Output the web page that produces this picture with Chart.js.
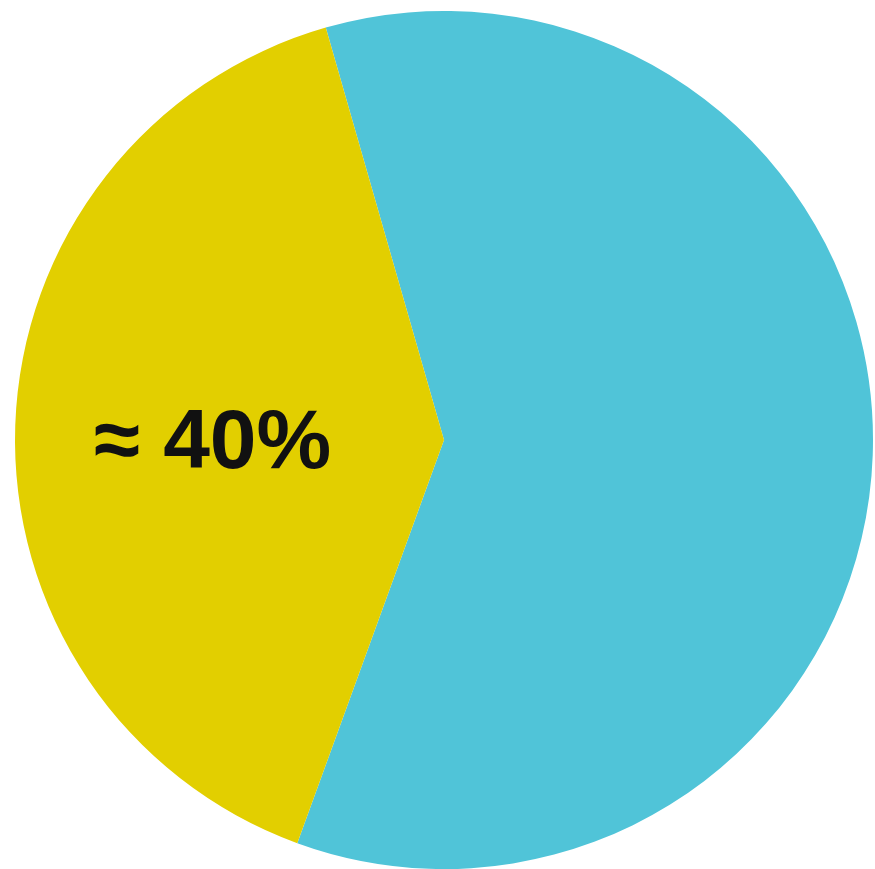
<!DOCTYPE html>
<html lang="en">
<head>
  <meta charset="UTF-8" />
  <title>Pie</title>
  <style>
    html, body {
      margin: 0;
      padding: 0;
      background: #ffffff;
    }
    #pieChart {
      display: block;
    }
  </style>
</head>
<body>
  <canvas id="pieChart" width="875" height="869"></canvas>

  <script src="https://cdn.jsdelivr.net/npm/chart.js"></script>
  <script>
    // chart data
    const categories = ["rest", "share"];
    const values = [60, 40];
    const sliceLabels = ["", "≈ 40%"];
    const sliceColors = ["#50c4d8", "#e2cf00"];

    // draws the text label inside each slice
    const sliceText = {
      id: "sliceText",
      afterDatasetsDraw(chart) {
        const ctx = chart.ctx;
        const meta = chart.getDatasetMeta(0);
        meta.data.forEach((arc, i) => {
          if (!sliceLabels[i]) return;
          const mid = (arc.startAngle + arc.endAngle) / 2;
          const r = arc.outerRadius * 0.54;
          ctx.save();
          ctx.fillStyle = "#111111";
          ctx.font = "bold 84px 'Liberation Sans', Arial, sans-serif";
          ctx.textAlign = "center";
          ctx.textBaseline = "middle";
          ctx.fillText(sliceLabels[i], arc.x + Math.cos(mid) * r, arc.y + Math.sin(mid) * r + 13);
          ctx.restore();
        });
      }
    };

    new Chart(document.getElementById("pieChart"), {
      type: "pie",
      data: {
        labels: categories,
        datasets: [{
          data: values,
          backgroundColor: sliceColors,
          borderWidth: 0
        }]
      },
      options: {
        responsive: false,
        animation: false,
        rotation: -16,
        layout: {
          padding: { left: 15, right: 2, top: 11, bottom: 0 }
        },
        plugins: {
          legend: { display: false },
          tooltip: { enabled: false }
        }
      },
      plugins: [sliceText]
    });
  </script>
</body>
</html>
